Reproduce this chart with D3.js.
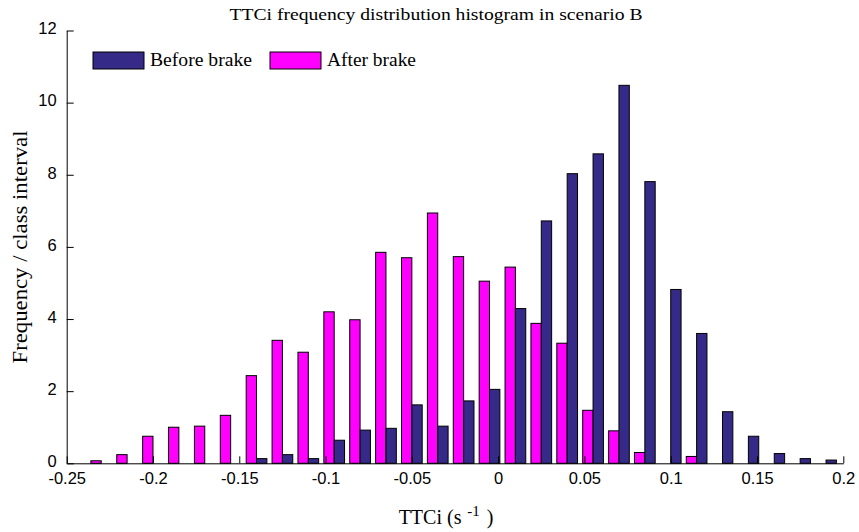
<!DOCTYPE html>
<html>
<head>
<meta charset="utf-8">
<script src="https://cdn.jsdelivr.net/npm/d3@7"></script>
<style>
  body { margin: 0; background: #fff; }
  svg { display: block; }
</style>
</head>
<body>
<div id="chart"></div>
<script>
// bin centres of the TTCi classes (s^-1)
const binCenters = [-0.23, -0.215, -0.2, -0.185, -0.17, -0.155, -0.14, -0.125, -0.11, -0.095,
    -0.08, -0.065, -0.05, -0.035, -0.02, -0.005, 0.01, 0.025, 0.04, 0.055,
    0.07, 0.085, 0.1, 0.115, 0.13, 0.145, 0.16, 0.175, 0.19];
const beforeBrake = [0, 0, 0, 0, 0, 0, 0.13, 0.24, 0.13, 0.64,
    0.92, 0.97, 1.62, 1.03, 1.73, 2.05, 4.29, 6.72, 8.03, 8.58,
    10.48, 7.81, 4.82, 3.60, 1.43, 0.75, 0.27, 0.13, 0.09];
const afterBrake = [0.07, 0.24, 0.75, 1.0, 1.03, 1.33, 2.43, 3.41, 3.08, 4.20,
    3.98, 5.85, 5.70, 6.94, 5.73, 5.05, 5.44, 3.88, 3.33, 1.47,
    0.90, 0.30, 0, 0.19, 0, 0, 0, 0, 0];
const xTicks = [-0.25, -0.2, -0.15, -0.1, -0.05, 0, 0.05, 0.1, 0.15, 0.2];
const yTicks = [0, 2, 4, 6, 8, 10, 12];
const seriesNames = ["Before brake", "After brake"];

const colors = { before: "#352a87", after: "#ff00ff" };
const serif = "'Liberation Serif', 'DejaVu Serif', serif";
const sans = "'Liberation Sans', Arial, sans-serif";

const width = 859;
const height = 532;
const margin = { top: 30.5, right: 15.7, bottom: 68.7, left: 66.7 };

const svg = d3.select("#chart")
    .append("svg")
    .attr("width", width)
    .attr("height", height);

const x = d3.scaleLinear()
    .domain([-0.25, 0.2])
    .range([margin.left, width - margin.right]);

const y = d3.scaleLinear()
    .domain([0, 12])
    .range([height - margin.bottom, margin.top]);

const binWidth = 0.015;
const barW = binWidth * 0.8 / 2;

const bins = binCenters.map((c, i) => ({ c, before: beforeBrake[i], after: afterBrake[i] }));

// after brake bars sit left of the bin centre, before brake bars right of it
svg.append("g")
    .selectAll("rect")
    .data(bins)
    .join("rect")
    .attr("x", d => x(d.c - barW))
    .attr("y", d => y(d.after))
    .attr("width", d => x(d.c) - x(d.c - barW))
    .attr("height", d => y(0) - y(d.after))
    .attr("fill", colors.after)
    .attr("stroke", "#000")
    .attr("stroke-width", 1);

svg.append("g")
    .selectAll("rect")
    .data(bins)
    .join("rect")
    .attr("x", d => x(d.c))
    .attr("y", d => y(d.before))
    .attr("width", d => x(d.c + barW) - x(d.c))
    .attr("height", d => y(0) - y(d.before))
    .attr("fill", colors.before)
    .attr("stroke", "#000")
    .attr("stroke-width", 1);

// axes, ticks inward
const xAxis = g => g
    .attr("transform", `translate(0,${y(0)})`)
    .call(d3.axisBottom(x).tickValues(xTicks).tickSizeInner(-7).tickSizeOuter(0)
        .tickPadding(9).tickFormat(d => String(d)))
    .call(g => g.selectAll("text").attr("font-family", sans).attr("font-size", 16.5).attr("fill", "#000"))
    .call(g => g.selectAll("line, path").attr("stroke", "#000"));

const yAxis = g => g
    .attr("transform", `translate(${margin.left},0)`)
    .call(d3.axisLeft(y).tickValues(yTicks).tickSizeInner(-7).tickSizeOuter(0).tickPadding(10))
    .call(g => g.selectAll("text").attr("font-family", sans).attr("font-size", 16.5)
        .attr("dy", "0.2em").attr("fill", "#000"))
    .call(g => g.selectAll("line, path").attr("stroke", "#000"));

svg.append("g").call(xAxis);
svg.append("g").call(yAxis);

// title
svg.append("text")
    .attr("x", 436)
    .attr("y", 20)
    .attr("text-anchor", "middle")
    .attr("font-family", serif)
    .attr("font-size", 17)
    .attr("textLength", 413)
    .attr("lengthAdjust", "spacingAndGlyphs")
    .text("TTCi frequency distribution histogram in scenario B");

// axis labels
const xl = svg.append("text")
    .attr("x", 446)
    .attr("y", 524)
    .attr("text-anchor", "middle")
    .attr("font-family", serif)
    .attr("font-size", 20);
xl.append("tspan").text("TTCi (s");
xl.append("tspan").attr("dx", 2).attr("dy", -8).attr("font-size", 15).text(" -1");
xl.append("tspan").attr("dx", 2).attr("dy", 8).text(" )");

svg.append("text")
    .attr("transform", "translate(27,247) rotate(-90)")
    .attr("text-anchor", "middle")
    .attr("font-family", serif)
    .attr("font-size", 20)
    .attr("textLength", 233)
    .attr("lengthAdjust", "spacingAndGlyphs")
    .text("Frequency / class interval");

// legend
const legend = svg.append("g");
const legendItems = [
    { name: seriesNames[0], color: colors.before, x: 93, tw: 102 },
    { name: seriesNames[1], color: colors.after, x: 270, tw: 89 }
];
legendItems.forEach(d => {
    legend.append("rect")
        .attr("x", d.x).attr("y", 52)
        .attr("width", 51).attr("height", 17)
        .attr("fill", d.color)
        .attr("stroke", "#000");
    legend.append("text")
        .attr("x", d.x + 57).attr("y", 66)
        .attr("font-family", serif)
        .attr("font-size", 18)
        .attr("textLength", d.tw)
        .attr("lengthAdjust", "spacingAndGlyphs")
        .text(d.name);
});
</script>
</body>
</html>
